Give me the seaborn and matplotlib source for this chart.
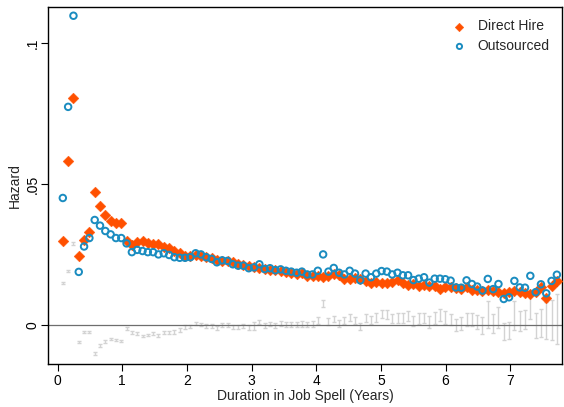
import numpy as np
import pandas as pd
import matplotlib
matplotlib.use("Agg")
import matplotlib.pyplot as plt
import seaborn as sns

# period index (30-day months) -> years
months = list(range(1, 95))

direct_hire = [
    0.0301, 0.0582, 0.0808, 0.0248, 0.0303, 0.0333, 0.0472, 0.0425, 0.0392, 0.0372,
    0.0362, 0.0365, 0.0301, 0.0285, 0.0297, 0.0301, 0.0294, 0.0288, 0.0288, 0.0280,
    0.0274, 0.0265, 0.0256, 0.0246, 0.0246, 0.0250, 0.0248, 0.0244, 0.0238, 0.0232,
    0.0230, 0.0228, 0.0224, 0.0218, 0.0215, 0.0210, 0.0208, 0.0205, 0.0200, 0.0198,
    0.0196, 0.0193, 0.0190, 0.0186, 0.0184, 0.0185, 0.0177, 0.0176, 0.0176, 0.0173,
    0.0177, 0.0181, 0.0179, 0.0164, 0.0165, 0.0167, 0.0164, 0.0159, 0.0152, 0.0155,
    0.0152, 0.0152, 0.0155, 0.0161, 0.0152, 0.0144, 0.0146, 0.0140, 0.0144, 0.0140,
    0.0140, 0.0128, 0.0135, 0.0138, 0.0134, 0.0128, 0.0138, 0.0126, 0.0126, 0.0124,
    0.0126, 0.0122, 0.0119, 0.0114, 0.0118, 0.0122, 0.0118, 0.0114, 0.0112, 0.0118,
    0.0138, 0.0096, 0.0140, 0.0158,
]

outsourced = [
    0.0452, 0.0775, 0.1098, 0.0190, 0.0280, 0.0310, 0.0374, 0.0354, 0.0335, 0.0323,
    0.0310, 0.0310, 0.0291, 0.0260, 0.0268, 0.0264, 0.0260, 0.0260, 0.0252, 0.0256,
    0.0250, 0.0242, 0.0240, 0.0240, 0.0242, 0.0256, 0.0252, 0.0242, 0.0236, 0.0224,
    0.0231, 0.0229, 0.0217, 0.0212, 0.0212, 0.0203, 0.0206, 0.0217, 0.0200, 0.0203,
    0.0196, 0.0199, 0.0194, 0.0191, 0.0187, 0.0191, 0.0181, 0.0181, 0.0194, 0.0252,
    0.0191, 0.0204, 0.0187, 0.0181, 0.0194, 0.0184, 0.0160, 0.0184, 0.0171, 0.0184,
    0.0193, 0.0191, 0.0181, 0.0187, 0.0178, 0.0178, 0.0161, 0.0166, 0.0171, 0.0152,
    0.0166, 0.0166, 0.0164, 0.0159, 0.0135, 0.0134, 0.0160, 0.0147, 0.0138, 0.0124,
    0.0165, 0.0129, 0.0147, 0.0094, 0.0100, 0.0158, 0.0135, 0.0134, 0.0176, 0.0118,
    0.0146, 0.0114, 0.0158, 0.0180,
]

# half-width of the confidence interval of the difference (Outsourced - Direct Hire)
diff_ci = [
    0.0004, 0.0004, 0.0005, 0.0004, 0.0004, 0.0004, 0.0005, 0.0004, 0.0004, 0.0004,
    0.0004, 0.0004, 0.0005, 0.0005, 0.0005, 0.0005, 0.0005, 0.0005, 0.0005, 0.0005,
    0.0005, 0.0006, 0.0006, 0.0006, 0.0006, 0.0006, 0.0006, 0.0006, 0.0006, 0.0007,
    0.0007, 0.0007, 0.0007, 0.0007, 0.0007, 0.0008, 0.0015, 0.0008, 0.0008, 0.0008,
    0.0009, 0.0009, 0.0009, 0.0009, 0.0010, 0.0010, 0.0010, 0.0011, 0.0011, 0.0012,
    0.0011, 0.0012, 0.0012, 0.0012, 0.0013, 0.0013, 0.0013, 0.0014, 0.0014, 0.0015,
    0.0015, 0.0016, 0.0016, 0.0017, 0.0017, 0.0018, 0.0018, 0.0019, 0.0018, 0.0020,
    0.0021, 0.0022, 0.0022, 0.0021, 0.0021, 0.0023, 0.0024, 0.0024, 0.0026, 0.0030,
    0.0049, 0.0032, 0.0037, 0.0030, 0.0030, 0.0051, 0.0035, 0.0034, 0.0040, 0.0044,
    0.0050, 0.0066, 0.0071, 0.0089,
]

x_ticks = [0, 1, 2, 3, 4, 5, 6, 7]
y_ticks = [0, 0.05, 0.1]
y_ticklabels = ["0", ".05", ".1"]

ORANGE = "#FF5000"
BLUE = "#1A8CC0"
GREY = "#D3D3D3"

years = np.array(months) * 30 / 365.25
df = pd.DataFrame({
    "years": years,
    "direct": direct_hire,
    "out": outsourced,
    "ci": diff_ci,
})
df["diff"] = df["out"] - df["direct"]

sns.set_theme(style="white")
plt.rcParams["font.family"] = ["Liberation Sans", "DejaVu Sans"]

fig = plt.figure(figsize=(5.64, 4.07), dpi=100)
ax = fig.add_axes([48 / 564, 1 - 364 / 407, (562 - 48) / 564, (364 - 7) / 407])

# grey difference with CI
ax.errorbar(df["years"], df["diff"], yerr=df["ci"], fmt="none",
            ecolor=GREY, elinewidth=1.0, capsize=1.6, capthick=1.0, zorder=1)
ax.axhline(0, color="#6E6E6E", lw=0.9, zorder=2)

sns.scatterplot(data=df, x="years", y="direct", ax=ax, marker="D", s=30,
                color=ORANGE, edgecolor=ORANGE, linewidth=0.3,
                label="Direct Hire", zorder=3)
sns.scatterplot(data=df, x="years", y="out", ax=ax, marker="o", s=22,
                facecolor="none", edgecolor=BLUE, linewidth=1.4,
                label="Outsourced", zorder=4)

ax.set_xlim(-0.147, 7.80)
ax.set_ylim(-0.01365, 0.1129)
ax.set_xticks(x_ticks)
ax.set_xticklabels([str(t) for t in x_ticks])
ax.set_yticks(y_ticks)
ax.set_yticklabels(y_ticklabels, rotation=90, va="center")
ax.tick_params(axis="both", direction="out", length=5, width=0.8, colors="black",
               labelsize=10, pad=2, bottom=True, left=True)
ax.tick_params(axis="y", pad=1)
ax.set_xlabel("Duration in Job Spell (Years)", fontsize=10, labelpad=1)
ax.set_ylabel("Hazard", fontsize=10, labelpad=3)

for sp in ax.spines.values():
    sp.set_visible(True)
    sp.set_color("black")
    sp.set_linewidth(1.0)

leg = ax.legend(loc="upper right", frameon=False, fontsize=10,
                handletextpad=0.3, borderaxespad=0.5, labelspacing=0.4,
                markerscale=0.8)

fig.savefig("out.png", dpi=100, facecolor="white")
